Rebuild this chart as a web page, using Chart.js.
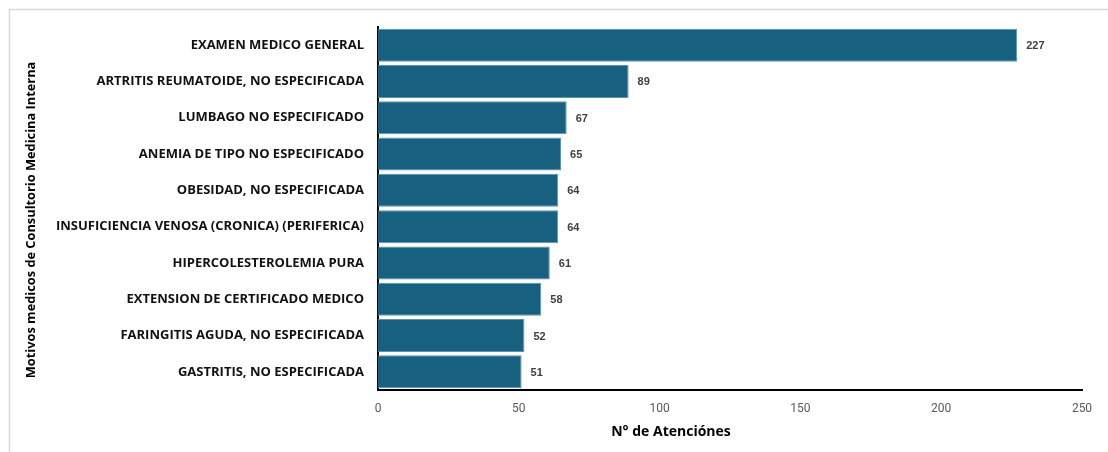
<!DOCTYPE html>
<html>
<head>
<meta charset="utf-8">
<script src="https://cdn.jsdelivr.net/npm/chart.js@4"></script>
<style>
  html, body { margin: 0; padding: 0; background: #fff; }
  #wrap { width: 1108px; height: 452px; }
</style>
</head>
<body>
<div id="wrap"><canvas id="chart" width="1108" height="452"></canvas></div>
<script>
const motivos = [
  "EXAMEN MEDICO GENERAL",
  "ARTRITIS REUMATOIDE, NO ESPECIFICADA",
  "LUMBAGO NO ESPECIFICADO",
  "ANEMIA DE TIPO NO ESPECIFICADO",
  "OBESIDAD, NO ESPECIFICADA",
  "INSUFICIENCIA VENOSA (CRONICA) (PERIFERICA)",
  "HIPERCOLESTEROLEMIA PURA",
  "EXTENSION DE CERTIFICADO MEDICO",
  "FARINGITIS AGUDA, NO ESPECIFICADA",
  "GASTRITIS, NO ESPECIFICADA"
];
const atenciones = [227, 89, 67, 65, 64, 64, 61, 58, 52, 51];
const xTicks = [0, 50, 100, 150, 200, 250];
const xTitle = "N° de Atenciónes";
const yTitle = "Motivos medicos de Consultorio Medicina Interna";

// frame around the chart, like the spreadsheet chart box
const frame = {
  id: "frame",
  beforeDraw(chart) {
    const ctx = chart.ctx;
    ctx.save();
    ctx.strokeStyle = "#d9d9d9";
    ctx.lineWidth = 1.5;
    ctx.beginPath();
    ctx.moveTo(9.5, 460);
    ctx.lineTo(9.5, 9.5);
    ctx.lineTo(1110, 9.5);
    ctx.stroke();
    ctx.restore();
  }
};

// axis titles: excel centres them on the whole chart, not the plot
const axisTitles = {
  id: "axisTitles",
  afterDraw(chart) {
    const ctx = chart.ctx;
    ctx.save();
    ctx.fillStyle = "#000";
    ctx.textAlign = "center";
    ctx.textBaseline = "middle";
    ctx.font = "bold 14px 'Open Sans', sans-serif";
    ctx.fillText(xTitle, 671, 432);
    ctx.translate(31, 220);
    ctx.rotate(-Math.PI / 2);
    ctx.font = "bold 12.8px 'Open Sans', sans-serif";
    ctx.fillText(yTitle, 0, 0);
    ctx.restore();
  }
};

// value labels at the end of each bar
const valueLabels = {
  id: "valueLabels",
  afterDatasetsDraw(chart) {
    const ctx = chart.ctx;
    const meta = chart.getDatasetMeta(0);
    ctx.save();
    ctx.font = "bold 11px 'Liberation Sans', Arial, sans-serif";
    ctx.fillStyle = "#404040";
    ctx.textAlign = "left";
    ctx.textBaseline = "middle";
    meta.data.forEach((bar, i) => {
      ctx.fillText(String(atenciones[i]), bar.x + 9, bar.y + 1);
    });
    ctx.restore();
  }
};

new Chart(document.getElementById("chart"), {
  type: "bar",
  data: {
    labels: motivos,
    datasets: [
      {
        data: atenciones,
        backgroundColor: "#17607f",
        borderColor: "#5b93ad",
        borderWidth: 1,
        barPercentage: 0.91,
        categoryPercentage: 1,
      },
    ],
  },
  options: {
    indexAxis: "y",
    responsive: false,
    animation: false,
    layout: {
      padding: { left: 10, right: 26, top: 27, bottom: 0 },
    },
    plugins: {
      legend: { display: false },
      tooltip: { enabled: false },
    },
    scales: {
      x: {
        min: 0,
        max: 250,
        afterBuildTicks(scale) {
          scale.ticks = xTicks.map((v) => ({ value: v }));
        },
        afterFit(scale) {
          scale.height = 62;
        },
        grid: { display: false, drawTicks: false },
        border: { color: "#000", width: 2 },
        ticks: {
          padding: 12,
          color: "#595959",
          font: { family: "Roboto", size: 12 },
        },
      },
      y: {
        afterFit(scale) {
          scale.width = 368;
        },
        grid: { display: false, drawTicks: false },
        border: { color: "#000", width: 2 },
        ticks: {
          padding: 14,
          color: "#111",
          font: { family: "Open Sans", size: 13, weight: "bold" },
        },
      },
    },
  },
  plugins: [frame, axisTitles, valueLabels],
});
</script>
</body>
</html>
